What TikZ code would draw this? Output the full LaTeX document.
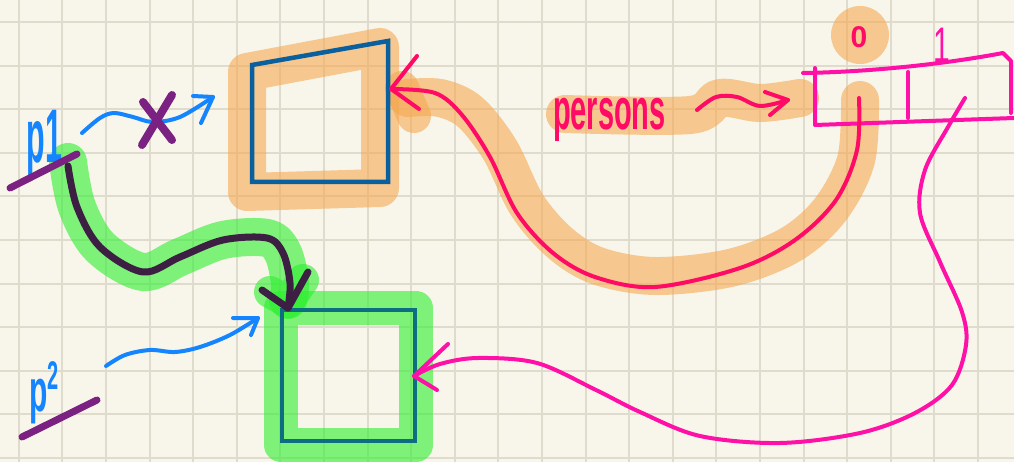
\documentclass[tikz,border=0pt]{standalone}
\usepackage{fontspec}
\setmainfont{Liberation Sans}
\definecolor{paper}{HTML}{F8F6EA}
\definecolor{gridc}{HTML}{DFDCCD}
\definecolor{hlorange}{RGB}{245,168,81}
\definecolor{hlgreen}{RGB}{45,239,47}
\definecolor{boxblue}{HTML}{0A5F9E}
\definecolor{boxteal}{HTML}{0C6E80}
\definecolor{penblue}{HTML}{1485FF}
\definecolor{penpurple}{HTML}{7A2182}
\definecolor{pendark}{HTML}{3D1F44}
\definecolor{crimson}{HTML}{FF0A64}
\definecolor{magentapen}{HTML}{FF10A6}
\begin{document}
\begin{tikzpicture}[x=1pt,y=-1pt,
  gridline/.style={gridc,line width=2pt},
  hlo/.style={hlorange,opacity=0.6,line width=#1,line cap=round,line join=round},
  hlg/.style={hlgreen,opacity=0.6,line width=#1,line cap=round,line join=round},
  pen/.style={line width=#1,line cap=round,line join=round},
  conn/.style={pen=4pt,smooth,tension=0.55},
  hand/.style={inner sep=0pt,outer sep=0pt}]
\fill[paper] (0,0) rectangle (1014,462);
\useasboundingbox (0,0) rectangle (1014,462);
\foreach \i in {0,...,22} \draw[gridline] ({18.7+43.6*\i},0) -- ++(0,462);
\foreach \j in {0,...,10} \draw[gridline] (0,{22+43.6*\j}) -- ++(1014,0);

% named points
\coordinate (A1) at (252,65);
\coordinate (A2) at (388,41);
\coordinate (A3) at (388,182);
\coordinate (A4) at (252,182);
\coordinate (Aright) at (391,89);
\coordinate (Bnw) at (282,310);
\coordinate (Bse) at (415,441);
\coordinate (Bright) at (414,376);
\coordinate (Btip) at (288,308);
\coordinate (Bin) at (258,318);
\coordinate (Ain) at (213,97);
\coordinate (cell0) at (859,98);
\coordinate (cell1) at (965,98);
\coordinate (arrL) at (788,100);
\coordinate (p1s) at (68,166);
\coordinate (p1a) at (82,133);
\coordinate (p2a) at (106,366);
\coordinate (pers) at (697,110);

% ---------- highlighter ----------
\draw[hlo=38pt] (247,72) -- (380,47) -- (380,188) -- (247,192) -- cycle;
\draw[hlo=38pt] plot[smooth,tension=0.55] coordinates {(860,100) (856,160) (830,210) (790,245) (730,268) (655,276) (598,266) (560,243) (527,205) (500,150) (470,112) (440,98) (408,98)};
\draw[hlo=34pt] (402,88) -- (414,116);
\draw[hlo=38pt] plot[smooth,tension=0.55] coordinates {(565,114) (690,115) (720,98) (760,103) (800,98)};
\fill[hlorange,opacity=0.6] (860,35) circle (29);
\draw[hlg=38pt] plot[smooth,tension=0.55] coordinates {(68,162) (77,207) (100,247) (143,272) (180,257) (223,240) (267,238) (283,253) (290,283) (288,300)};
\draw[hlg=32pt] (270,292) -- (288,302) -- (303,280);
\draw[hlg=34pt] (281,308) rectangle (416,445);

% ---------- boxes ----------
\draw[boxblue,pen=4.5pt,line cap=butt,line join=miter] (A1) -- (A2) -- (A3) -- (A4) -- cycle;
\draw[boxteal,pen=4.5pt,line cap=butt,line join=miter] (Bnw) rectangle (Bse);

% ---------- array ----------
\draw[magentapen,pen=4pt] (803,73) .. controls (870,72) and (945,64) .. (1003,53) -- (1011,61) -- (1011,113);
\draw[magentapen,pen=4pt] (815,68) -- (815,125) -- (1014,118);
\draw[magentapen,pen=4pt] (908,72) -- (908,118);
\node[hand,crimson,font=\bfseries\fontsize{30}{30}\selectfont] (idx0) at (859,37) {0};
\node[hand,magentapen,font=\fontsize{50}{50}\selectfont,xscale=0.6] (idx1) at (942,45) {1};

% ---------- labels ----------
\node[hand,crimson,anchor=base west,font=\bfseries\fontsize{58}{58}\selectfont,xscale=0.5] (persons) at (553,130) {persons};
\node[hand,penblue,anchor=base west,font=\bfseries\fontsize{76}{76}\selectfont,xscale=0.4] (p1) at (27,163) {p1};
\node[hand,penblue,anchor=base west,font=\bfseries\fontsize{60}{60}\selectfont,xscale=0.5] (p2) at (29,411) {p{\fontsize{40}{40}\selectfont\raisebox{22pt}{2}}};
\draw[penpurple,pen=7pt] (10,188) -- (77,154);
\draw[penpurple,pen=7pt] (22,437) -- (97,400);

% ---------- connectors ----------
\draw[penblue,conn] plot coordinates {(p1a) (100,118) (114,113) (133,117) (153,122) (180,117) (Ain)};
\draw[penblue,pen=4pt] (193,96) -- (Ain) -- (201,123);
\draw[penpurple,pen=8pt] (172,95) -- (142,145);
\draw[penpurple,pen=8pt] (143,102) -- (172,140);

\draw[penblue,conn] plot coordinates {(p2a) (125,355) (150,350) (175,352) (200,347) (230,335) (Bin)};
\draw[penblue,pen=4pt] (233,318) -- (Bin) -- (251,335);

\draw[pendark,pen=7pt,smooth,tension=0.55] plot coordinates {(p1s) (77,207) (100,247) (143,272) (180,257) (223,240) (267,238) (283,253) (290,283) (Btip)};
\draw[pendark,pen=7pt] (262,290) -- (Btip) -- (308,272);

\draw[crimson,conn] plot coordinates {(pers) (716,97) (737,97) (760,106) (arrL)};
\draw[crimson,pen=4pt] (765,92) -- (arrL) -- (770,115);

\draw[crimson,conn] plot coordinates {(cell0) (857,150) (836,200) (795,240) (740,268) (655,287) (595,277) (553,253) (517,213) (490,157) (462,115) (435,93) (Aright)};
\draw[crimson,pen=4pt] (417,56) -- (Aright) -- (419,109);

\draw[magentapen,conn] plot coordinates {(cell1) (948,127) (925,170) (920,213) (940,262) (962,312) (966,345) (952,385) (915,413) (860,433) (780,443) (700,436) (640,412) (596,390) (537,363) (478,358) (440,364) (Bright)};
\draw[magentapen,pen=4pt] (448,344) -- (Bright) -- (437,390);
\end{tikzpicture}
\end{document}
